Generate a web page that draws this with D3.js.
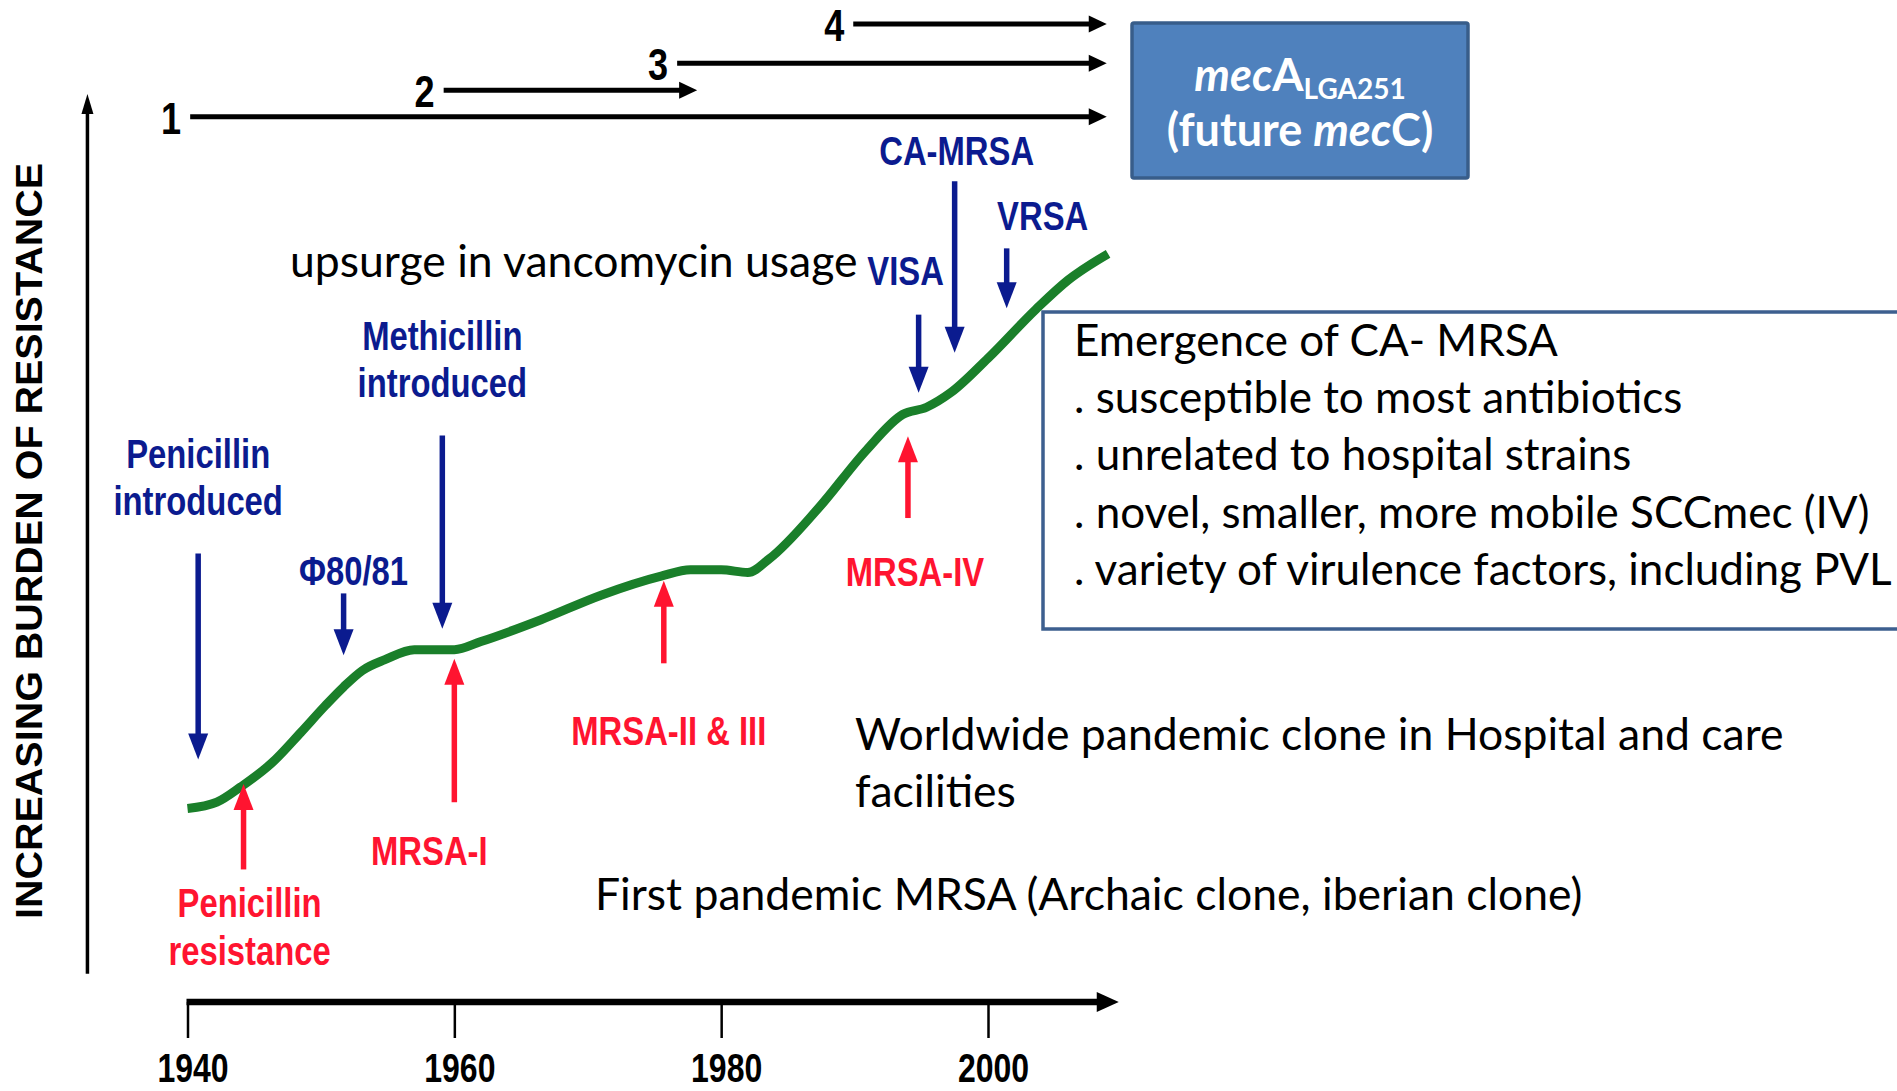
<!DOCTYPE html>
<html>
<head>
<meta charset="utf-8">
<script src="https://cdn.jsdelivr.net/npm/d3@7"></script>
<style>
  body { margin: 0; background: #fff; }
  svg { display: block; overflow: hidden; }
  .narrow { font-family: "Liberation Sans", Arial, sans-serif; font-weight: bold; }
  .soft { font-family: Lato, "Open Sans", sans-serif; }
</style>
</head>
<body>
<svg id="chart" width="1897" height="1091"></svg>
<script>

// burden of resistance curve (years, relative burden 0-100)
let curveYears  = [1940, 1942.2, 1944, 1946.3, 1948.5, 1950.3, 1951.7, 1953.1, 1954.8, 1957, 1960, 1962, 1966.5, 1971, 1975.5, 1977.7, 1980, 1982, 1983.6, 1987.3, 1990.9, 1993.6, 1995.4, 1997.2, 2000, 2003.6, 2006, 2009];
let curveBurden = [21.3, 22.0, 23.7, 26.3, 29.7, 32.6, 34.7, 36.5, 37.7, 38.8, 38.8, 39.7, 42.1, 44.8, 46.9, 47.6, 47.6, 47.3, 48.8, 54.4, 60.8, 64.7, 65.5, 67.1, 70.9, 76.3, 79.5, 82.4];

// blue events (arrows pointing down onto the curve)
let introNames = [["Penicillin", "introduced"], ["\u03A680/81"], ["Methicillin", "introduced"], ["VISA"], ["CA-MRSA"], ["VRSA"]];
let introYears = [1940.8, 1951.7, 1959.1, 1994.8, 1997.5, 2001.4];
let introFrom  = [49.4, 45.0, 62.4, 75.7, 90.4, 83.0];
let introTo    = [26.7, 38.2, 41.1, 67.1, 71.5, 76.4];

// red events (arrows pointing up onto the curve)
let cloneNames = [["Penicillin", "resistance"], ["MRSA-I"], ["MRSA-II & III"], ["MRSA-IV"]];
let cloneYears = [1944.2, 1960, 1975.7, 1994];
let cloneFrom  = [14.6, 22.0, 37.3, 53.3];
let cloneTo    = [24.0, 37.8, 46.4, 62.3];

// numbered periods on top
let periodNames = ["1", "2", "3", "4"];
let periodStart = [1940.2, 1959.2, 1976.7, 1989.9];
let periodEnd   = [2008.9, 1978.2, 2008.9, 2008.9];
let periodLevel = [97.5, 100.4, 103.4, 107.7];

let yearTicks = [1940, 1960, 1980, 2000];

let boxLines = ["Emergence of CA- MRSA",
                ". susceptible to most antibiotics",
                ". unrelated to hospital strains",
                ". novel, smaller, more mobile SCCmec (IV)",
                ". variety of virulence factors, including PVL"];


document.addEventListener('DOMContentLoaded', function () {
  draw();
});


// squeeze bold text so it looks like a narrow face
function squeeze(sel, k) {
  sel.each(function () {
    let w = this.getComputedTextLength();
    d3.select(this)
      .attr('textLength', w * k)
      .attr('lengthAdjust', 'spacingAndGlyphs');
  });
}


function draw() {

  let svg = d3.select('#chart');

  let x = d3.scaleLinear().domain([1940, 2000]).range([187.5, 988]);
  let y = d3.scaleLinear().domain([0, 100]).range([1002, 94]);

  let blue = '#0b1b8f';
  let red = '#ff1430';

  // draw a straight arrow (shaft + triangle head)
  function arrow(g, x1, y1, x2, y2, color, w, headW, headL) {
    let dx = x2 - x1, dy = y2 - y1;
    let len = Math.sqrt(dx * dx + dy * dy);
    let ux = dx / len, uy = dy / len;
    let bx = x2 - ux * headL, by = y2 - uy * headL;
    g.append('line')
      .attr('x1', x1).attr('y1', y1)
      .attr('x2', bx + ux * 1).attr('y2', by + uy * 1)
      .style('stroke', color)
      .style('stroke-width', w);
    g.append('path')
      .attr('d', 'M' + x2 + ',' + y2 +
                 'L' + (bx - uy * headW / 2) + ',' + (by + ux * headW / 2) +
                 'L' + (bx + uy * headW / 2) + ',' + (by - ux * headW / 2) + 'Z')
      .style('fill', color);
  }

  // CA-MRSA text box (behind the curve)
  svg.append('rect')
    .attr('x', 1043).attr('y', 312)
    .attr('width', 900).attr('height', 317)
    .style('fill', '#fff')
    .style('stroke', '#3d5f8f')
    .style('stroke-width', 3.5);

  svg.selectAll('.box-line')
    .data(boxLines)
    .join('text')
    .classed('box-line soft', true)
    .attr('x', 1074)
    .attr('y', (d, i) => 356 + i * 57.2)
    .style('font-size', '44px')
    .style('fill', '#000')
    .text(d => d);

  // y axis
  let axisG = svg.append('g');
  arrow(axisG, x(1932.5), y(3.1), x(1932.5), y(100), '#000', 3.5, 12, 20);

  svg.append('text')
    .attr('transform', 'translate(42,541) rotate(-90)')
    .attr('text-anchor', 'middle')
    .attr('textLength', 756)
    .attr('lengthAdjust', 'spacingAndGlyphs')
    .style('font-family', '"Liberation Sans", Arial, sans-serif')
    .style('font-weight', 'bold')
    .style('font-size', '36px')
    .text('INCREASING BURDEN OF RESISTANCE');

  // x axis
  let xAxis = d3.axisBottom(x)
    .tickValues(yearTicks)
    .tickFormat(d3.format('d'))
    .tickSize(36)
    .tickPadding(16);

  let xg = svg.append('g')
    .attr('transform', `translate(0,${y(0)})`)
    .call(xAxis);
  xg.select('.domain').remove();
  xg.selectAll('.tick line').style('stroke', '#000').style('stroke-width', 2.5);
  xg.selectAll('.tick text')
    .attr('class', 'narrow')
    .attr('dx', 5)
    .style('font-size', '40px')
    .style('fill', '#000')
    .call(squeeze, 0.8);

  arrow(axisG, x(1940) - 1, y(0), x(2009.8), y(0), '#000', 6.5, 20, 22);

  // burden curve
  let pts = curveYears.map((d, i) => [d, curveBurden[i]]);
  let line = d3.line()
    .x(d => x(d[0]))
    .y(d => y(d[1]))
    .curve(d3.curveMonotoneX);

  svg.append('path')
    .datum(pts)
    .attr('d', line)
    .style('fill', 'none')
    .style('stroke', '#1a7f2a')
    .style('stroke-width', 9)
    .style('stroke-linejoin', 'round');

  // numbered period arrows
  let topG = svg.append('g');
  periodNames.forEach((d, i) => {
    arrow(topG, x(periodStart[i]), y(periodLevel[i]), x(periodEnd[i]), y(periodLevel[i]), '#000', 5, 17, 18);
    topG.append('text')
      .classed('narrow', true)
      .attr('x', x(periodStart[i]) - 9)
      .attr('y', y(periodLevel[i]) + 17)
      .attr('text-anchor', 'end')
      .style('font-size', '44px')
      .text(d)
      .call(squeeze, 0.82);
  });

  // blue events
  let introPlace = [
    { dx: 0, dy: -38 }, { dx: 10, dy: -8 }, { dx: 0, dy: -38 },
    { dx: -13, dy: -30 }, { dx: 2, dy: -16 }, { dx: 36, dy: -18 }
  ];
  let introG = svg.append('g');
  introNames.forEach((names, i) => {
    let ax = x(introYears[i]);
    arrow(introG, ax, y(introFrom[i]), ax, y(introTo[i]), blue, 5.5, 20, 26);
    names.forEach((t, j) => {
      introG.append('text')
        .classed('narrow', true)
        .attr('x', ax + introPlace[i].dx)
        .attr('y', y(introFrom[i]) + introPlace[i].dy - (names.length - 1 - j) * 47)
        .attr('text-anchor', 'middle')
        .style('font-size', '40px')
        .style('fill', blue)
        .text(t)
        .call(squeeze, 0.82);
    });
  });

  // red events
  let clonePlace = [
    { dx: 6, dy: 48 }, { dx: -25, dy: 63 }, { dx: 5, dy: 82 }, { dx: 7, dy: 68 }
  ];
  let cloneG = svg.append('g');
  cloneNames.forEach((names, i) => {
    let ax = x(cloneYears[i]);
    arrow(cloneG, ax, y(cloneFrom[i]), ax, y(cloneTo[i]), red, 5.5, 20, 26);
    names.forEach((t, j) => {
      cloneG.append('text')
        .classed('narrow', true)
        .attr('x', ax + clonePlace[i].dx)
        .attr('y', y(cloneFrom[i]) + clonePlace[i].dy + j * 48)
        .attr('text-anchor', 'middle')
        .style('font-size', '40px')
        .style('fill', red)
        .text(t)
        .call(squeeze, 0.82);
    });
  });

  // free annotations
  let notes = [
    { t: 'upsurge in vancomycin usage', x: 290, y: 277 },
    { t: 'Worldwide pandemic clone in Hospital and care', x: 855, y: 750 },
    { t: 'facilities', x: 855, y: 807 },
    { t: 'First pandemic MRSA (Archaic clone, iberian clone)', x: 595, y: 910 }
  ];
  svg.selectAll('.note')
    .data(notes)
    .join('text')
    .classed('note soft', true)
    .attr('x', d => d.x)
    .attr('y', d => d.y)
    .style('font-size', '44.5px')
    .style('fill', '#000')
    .text(d => d.t);

  // mecA box
  svg.append('rect')
    .attr('x', 1132).attr('y', 23)
    .attr('width', 336).attr('height', 155)
    .attr('rx', 2)
    .style('fill', '#4f81bd')
    .style('stroke', '#385d8a')
    .style('stroke-width', 3.5);

  let t1 = svg.append('text')
    .classed('soft', true)
    .attr('x', 1300).attr('y', 91)
    .attr('text-anchor', 'middle')
    .style('font-size', '45px')
    .style('font-weight', 'bold')
    .style('fill', '#fff');
  t1.append('tspan').style('font-style', 'italic').text('mec');
  t1.append('tspan').text('A');
  t1.append('tspan').attr('dy', 8).style('font-size', '28px').text('LGA251');

  let t2 = svg.append('text')
    .classed('soft', true)
    .attr('x', 1300).attr('y', 146)
    .attr('text-anchor', 'middle')
    .style('font-size', '45px')
    .style('font-weight', 'bold')
    .style('fill', '#fff');
  t2.append('tspan').text('(future ');
  t2.append('tspan').style('font-style', 'italic').text('mec');
  t2.append('tspan').text('C)');
}
</script>
</body>
</html>
